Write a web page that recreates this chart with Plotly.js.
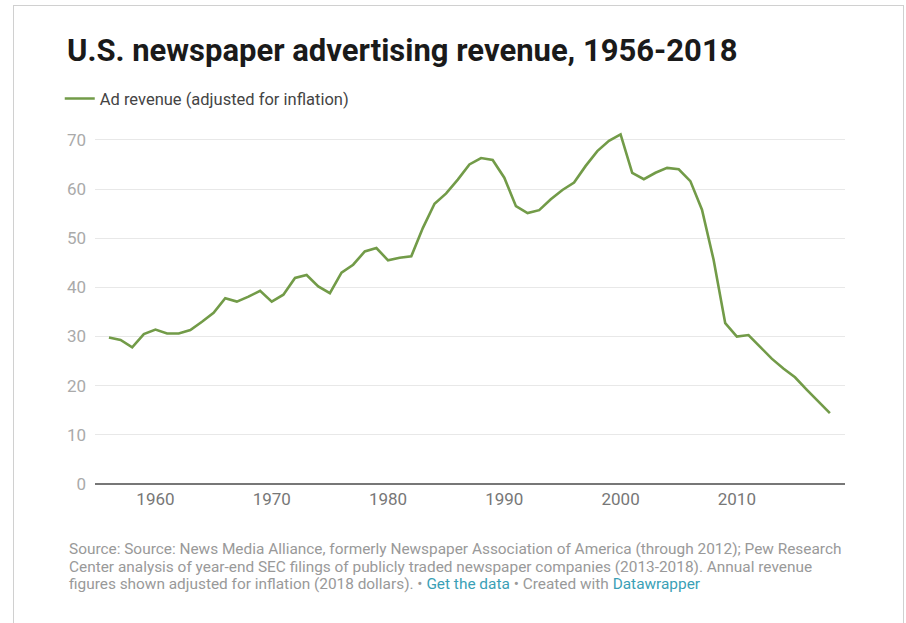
<!DOCTYPE html>
<html>
<head>
<meta charset="utf-8">
<script src="https://cdn.plot.ly/plotly-3.0.1.min.js"></script>
<style>
  html, body { margin: 0; padding: 0; background: #fff; }
  #chart { width: 906px; height: 623px; position: absolute; left: 0; top: 0; }
  #frame { position: absolute; left: 13px; top: 5px; width: 889px; height: 640px; border: 1px solid #d0d0d0; pointer-events: none; }
</style>
</head>
<body>
<div id="chart"></div>
<div id="frame"></div>
<script>
const years = [1956,1957,1958,1959,1960,1961,1962,1963,1964,1965,1966,1967,1968,1969,1970,1971,1972,1973,1974,1975,1976,1977,1978,1979,1980,1981,1982,1983,1984,1985,1986,1987,1988,1989,1990,1991,1992,1993,1994,1995,1996,1997,1998,1999,2000,2001,2002,2003,2004,2005,2006,2007,2008,2009,2010,2011,2012,2013,2014,2015,2016,2017,2018];
const adRevenue = [29.8,29.3,27.8,30.5,31.4,30.6,30.6,31.3,33.0,34.8,37.8,37.1,38.1,39.3,37.1,38.5,41.9,42.5,40.2,38.8,43.0,44.6,47.3,48.0,45.5,46.0,46.3,52.1,57.0,59.1,61.9,65.0,66.3,65.9,62.3,56.5,55.1,55.7,57.9,59.8,61.3,64.7,67.7,69.8,71.1,63.3,62.0,63.3,64.3,64.0,61.6,55.8,45.6,32.7,30.0,30.3,27.9,25.5,23.5,21.7,19.2,16.8,14.4];
const seriesName = "Ad revenue (adjusted for inflation)";
const yTicks = [0,10,20,30,40,50,60,70];
const xTicks = [1960,1970,1980,1990,2000,2010];
const titleText = "U.S. newspaper advertising revenue, 1956-2018";
const footerLines = [
  "Source: Source: News Media Alliance, formerly Newspaper Association of America (through 2012); Pew Research",
  "Center analysis of year-end SEC filings of publicly traded newspaper companies (2013-2018). Annual revenue",
  "figures shown adjusted for inflation (2018 dollars). • <span style=\"color:#3a9fb6\">Get the data</span> • Created with <span style=\"color:#3a9fb6\">Datawrapper</span>"
];

const trace = {
  x: years, y: adRevenue, type: 'scatter', mode: 'lines', name: seriesName,
  line: { color: '#729b48', width: 2.6 }
};

const footerY = [549, 566.5, 584];
const annotations = footerLines.map((t, i) => ({
  text: t, xref: 'paper', yref: 'paper',
  x: (67-95)/750, y: (484-footerY[i])/354, xanchor: 'left', yanchor: 'middle',
  align: 'left', showarrow: false,
  font: { size: 15.4, color: '#999' }
}));

const layout = {
  width: 906, height: 623,
  margin: { l: 95, r: 61, t: 130, b: 139 },
  paper_bgcolor: '#ffffff', plot_bgcolor: '#ffffff',
  font: { family: 'Roboto, "Noto Sans", sans-serif', color: '#888' },
  title: {
    text: '<b>' + titleText + '</b>',
    font: { family: 'Roboto, sans-serif', size: 31, color: '#1a1a1a' },
    x: 67/906, xref: 'container', xanchor: 'left',
    y: 1 - 50/623, yref: 'container', yanchor: 'middle'
  },
  showlegend: true,
  legend: {
    orientation: 'h', x: -0.047, xanchor: 'left', y: 1.088, yanchor: 'middle',
    font: { size: 16.5, color: '#444' }, bgcolor: 'rgba(0,0,0,0)'
  },
  xaxis: {
    range: [1954.8, 2019.3], tickvals: xTicks, ticktext: xTicks.map(String),
    showgrid: false, zeroline: false, showline: false, ticks: '',
    tickfont: { size: 17, color: '#777' }, ticklabelstandoff: 3, fixedrange: true
  },
  yaxis: {
    range: [0, 72], tickvals: yTicks, ticktext: yTicks.map(String),
    showgrid: true, gridcolor: '#e8e8e8', gridwidth: 1,
    zeroline: true, zerolinecolor: '#777', zerolinewidth: 2,
    showline: false, ticks: '', ticklabelstandoff: 8,
    tickfont: { size: 17, color: '#aaa' }, fixedrange: true
  },
  annotations: annotations
};

Plotly.newPlot('chart', [trace], layout, { displayModeBar: false, staticPlot: true });
</script>
</body>
</html>
